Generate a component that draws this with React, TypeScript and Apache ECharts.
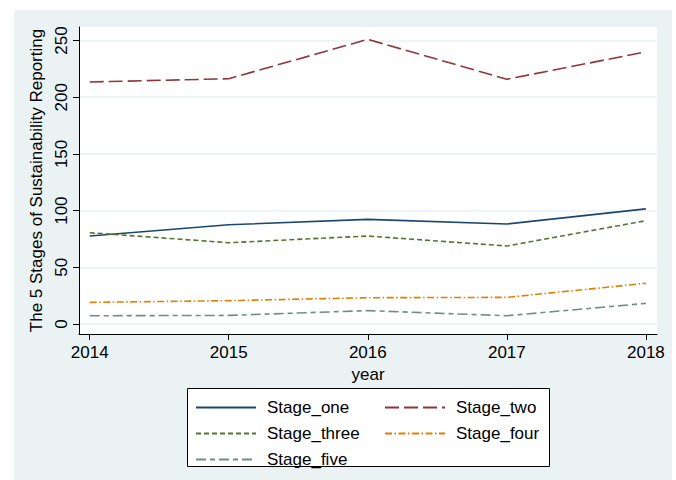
import React, { useEffect, useRef } from "react";
import * as echarts from "echarts";

const years = [2014, 2015, 2016, 2017, 2018];
const yTicks = [0, 50, 100, 150, 200, 250];
const stageOne = [77.6, 87.5, 92.3, 88.2, 101.5];
const stageTwo = [213.4, 216.3, 251, 215.8, 240];
const stageThree = [80.5, 71.7, 77.6, 68.8, 91.1];
const stageFour = [19.1, 20.6, 23.2, 23.5, 35.9];
const stageFive = [7.3, 7.6, 11.8, 7.3, 18.2];

const FONT = "'Liberation Sans', Arial, sans-serif";
const FS = 17;

const seriesDefs = [
  { name: "Stage_one", data: stageOne, color: "#1A476F", type: "solid" as any },
  { name: "Stage_two", data: stageTwo, color: "#90353B", type: [14, 5] },
  { name: "Stage_three", data: stageThree, color: "#55752F", type: [5, 3] },
  { name: "Stage_four", data: stageFour, color: "#E37E00", type: [7, 2.5, 1.5, 2.5] },
  { name: "Stage_five", data: stageFive, color: "#6E8E84", type: [10, 4, 5, 4] },
];

export default function App() {
  const ref = useRef<HTMLDivElement>(null);
  useEffect(() => {
    if (!ref.current) return;
    const chart = echarts.init(ref.current, undefined, { renderer: "svg" });
    const legendCommon = {
      orient: "vertical",
      itemWidth: 60,
      itemHeight: 14,
      itemGap: 9,
      padding: 0,
      itemStyle: { opacity: 0, borderWidth: 0 },
      textStyle: { fontFamily: FONT, fontSize: FS, color: "#000", padding: [0, 0, 0, 6] },
      selectedMode: false,
    };
    chart.setOption({
      animation: false,
      backgroundColor: "#EAF2F3",
      grid: {
        left: 65,
        right: 15,
        top: 17,
        bottom: 146,
        show: true,
        backgroundColor: "#ffffff",
        borderWidth: 0,
      },
      xAxis: {
        type: "value",
        min: 2013.923,
        max: 2018.08,
        name: "year",
        nameLocation: "middle",
        nameGap: 31,
        nameTextStyle: { fontFamily: FONT, fontSize: FS, color: "#000" },
        axisLine: { show: true, onZero: false, lineStyle: { color: "#000", width: 1 } },
        axisTick: { show: true, length: 6, customValues: years, lineStyle: { color: "#000" } },
        axisLabel: {
          customValues: years,
          fontFamily: FONT,
          fontSize: FS,
          color: "#000",
          margin: 10,
          formatter: (v: number) => String(v),
        },
        splitLine: { show: false },
      },
      yAxis: {
        type: "value",
        min: -8.8,
        max: 261.9,
        name: "The 5 Stages of Sustainability Reporting",
        nameLocation: "middle",
        nameGap: 26,
        nameTextStyle: { fontFamily: FONT, fontSize: FS, color: "#000" },
        axisLine: { show: true, onZero: false, lineStyle: { color: "#000", width: 1 } },
        axisTick: { show: true, length: 6, customValues: yTicks, lineStyle: { color: "#000" } },
        axisLabel: {
          customValues: yTicks,
          rotate: 90,
          fontFamily: FONT,
          fontSize: FS,
          color: "#000",
          margin: 9,
        },
        splitLine: { show: true, lineStyle: { color: "#EAF2F3", width: 1.5 } },
      },
      legend: [
        { ...legendCommon, left: 181, top: 389, data: ["Stage_one", "Stage_three", "Stage_five"] },
        { ...legendCommon, left: 370, top: 389, data: ["Stage_two", "Stage_four"] },
      ],
      graphic: [
        {
          type: "rect",
          left: 173,
          top: 378,
          z: -1,
          shape: { width: 362, height: 78 },
          style: { fill: "#ffffff", stroke: "#000", lineWidth: 1 },
        },
      ],
      series: seriesDefs.map((s) => ({
        name: s.name,
        type: "line",
        data: s.data.map((v, i) => [years[i], v]),
        showSymbol: false,
        symbol: "none",
        color: s.color,
        lineStyle: { color: s.color, width: 1.6, type: s.type },
      })),
    });
    return () => chart.dispose();
  }, []);
  return (
    <div style={{ position: "fixed", left: 0, top: 0, width: 676, height: 480, background: "#fff" }}>
      <div ref={ref} style={{ position: "absolute", left: 14, top: 10, width: 658, height: 470 }} />
    </div>
  );
}
